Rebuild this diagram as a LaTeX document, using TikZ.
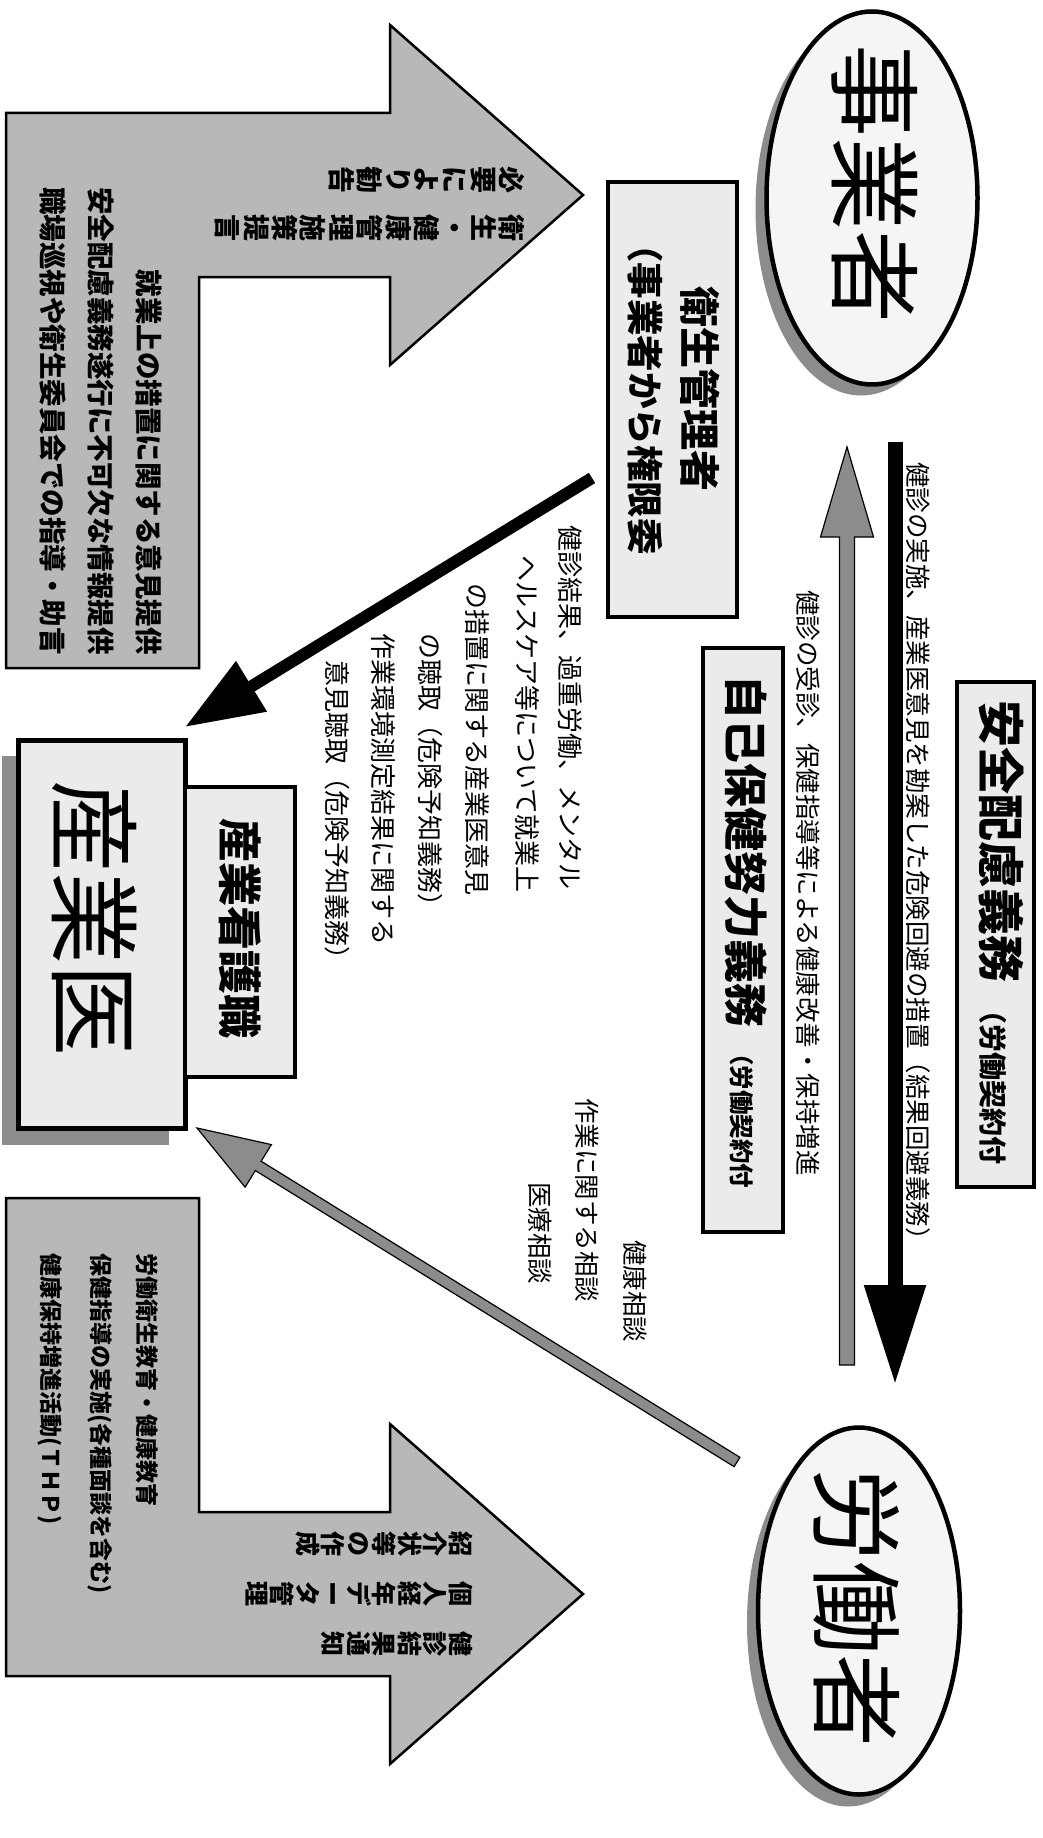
\documentclass[tikz,border=0pt]{standalone}
\usepackage{fontspec}
\setmainfont{Noto Sans CJK JP}
\usetikzlibrary{arrows.meta,shapes.geometric,calc}
\tikzset{
  larrow/.style={draw=black,line width=2.5pt,fill=black!28,line join=miter},
  boxst/.style={draw=black,line width=4pt,fill=black!8,inner sep=0pt},
  ellst/.style={ellipse,draw=black,line width=4.5pt,fill=black!4,inner sep=0pt},
  shadst/.style={ellipse,fill=black!45,inner sep=0pt},
  grayarr/.style={fill=black!45,draw=black,line width=1.2pt,line join=miter},
  rt/.style={rotate=-90,inner sep=0pt,anchor=west,font=\fontsize{25.5}{25.5}\selectfont},
  rtb/.style={rotate=-90,inner sep=0pt,anchor=west},
  big/.style={rotate=-90,inner sep=0pt,anchor=center,font=\fontsize{93}{93}\selectfont},
  colt/.style={rotate=-90,inner sep=0pt,anchor=north,align=center},
}
\begin{document}
\begin{tikzpicture}[x=1pt,y=-1pt]
\useasboundingbox[fill=white] (0,0) rectangle (1042,1838);

% ---- L arrows ----
\draw[larrow] (6,113) -- (390,113) -- (390,25) -- (583,195) -- (390,365)
  -- (390,277) -- (199,277) -- (199,668) -- (6,668) -- cycle;
\draw[larrow] (6,1198) -- (199,1198) -- (199,1512) -- (390,1512) -- (390,1424)
  -- (583,1594) -- (390,1764) -- (390,1676) -- (6,1676) -- cycle;

% top arrow texts
\node[colt,font=\bfseries\fontsize{27}{28.4}\selectfont] (ta1) at (525,180) {必\\要\\に\\よ\\り\\勧\\告};
\node[colt,font=\bfseries\fontsize{27}{28.4}\selectfont] (ta2) at (525,228) {衛\\生\\・\\健\\康\\管\\理\\施\\策\\提\\言};
\node[rtb,anchor=east,font=\bfseries\fontsize{27.5}{27.5}\selectfont] (tb1) at (149,655) {就業上の措置に関する意見提供};
\node[rtb,anchor=east,font=\bfseries\fontsize{27.5}{27.5}\selectfont] (tb2) at (101,655) {安全配慮義務遂行に不可欠な情報提供};
\node[rtb,anchor=east,font=\bfseries\fontsize{27.5}{27.5}\selectfont] (tb3) at (53,655) {職場巡視や衛生委員会での指導・助言};

% bottom arrow texts
\node[rtb,font=\bfseries\fontsize{23}{23}\selectfont] (bb1) at (147,1253) {労働衛生教育・健康教育};
\node[rtb,font=\bfseries\fontsize{23}{23}\selectfont] (bb2) at (100,1253) {保健指導の実施(各種面談を含む)};
\node[rtb,font=\bfseries\fontsize{23}{23}\selectfont] (bb3) at (50,1253) {健康保持増進活動(ＴＨＰ)};
\node[colt,font=\bfseries\fontsize{25}{25.5}\selectfont] (ba1) at (473,1544) {紹\\介\\状\\等\\の\\作\\成};
\node[colt,font=\bfseries\fontsize{25}{25.5}\selectfont] (ba2) at (473,1594) {個\\人\\経\\年\\デ\\ー\\タ\\管\\理};
\node[colt,font=\bfseries\fontsize{25}{25.5}\selectfont] (ba3) at (473,1644) {健\\診\\結\\果\\通\\知};

% ---- ellipses ----
\node[shadst,minimum width=211pt,minimum height=373pt] (empsh) at (861,209) {};
\node[ellst,minimum width=211pt,minimum height=373pt] (emp) at (872,198) {};
\node[big] (empt) at (875,184) {事業者};
\node[shadst,minimum width=202pt,minimum height=367pt] (wrksh) at (848,1623) {};
\node[ellst,minimum width=202pt,minimum height=367pt] (wrk) at (859,1611) {};
\node[big] (wrkt) at (857,1608) {労働者};

% ---- boxes ----
\node[boxst,minimum width=129pt,minimum height=435pt] (eisei) at (672.5,399.5) {};
\node[rtb,font=\bfseries\fontsize{41}{41}\selectfont] (eiseit) at (700,286) {衛生管理者};
\node[rtb,font=\bfseries\fontsize{36.5}{36.5}\selectfont] (eiseit2) at (645,226) {（事業者から権限委};

\node[boxst,minimum width=77pt,minimum height=505pt] (anzen) at (995.5,934.5) {};
\node[rtb,font=\bfseries\fontsize{47}{47}\selectfont] (anzent) at (1001,700) {安全配慮義務};
\node[rtb,font=\bfseries\fontsize{28}{28}\selectfont] (anzent2) at (993,996) {（労働契約付};

\node[boxst,minimum width=80pt,minimum height=584pt] (jiko) at (743,940) {};
\node[rtb,font=\bfseries\fontsize{44}{44}\selectfont] (jikot) at (746,675) {自己保健努力義務};
\node[rtb,font=\bfseries\fontsize{24.5}{24.5}\selectfont] (jikot2) at (742,1041) {（労働契約付};

\fill[black!45] (2,756) rectangle (169,1145);
\node[boxst,line width=5pt,minimum width=167pt,minimum height=388pt] (sangyoi) at (101.5,934) {};
\node[big,font=\fontsize{92}{92}\selectfont] (sangyoit) at (95,918) {産業医};
\node[boxst,minimum width=110pt,minimum height=290pt] (kango) at (240,932) {};
\node[rtb,font=\bfseries\fontsize{44}{44}\selectfont] (kangot) at (240,818) {産業看護職};

% ---- vertical arrows ----
\coordinate (dstart) at (895,442);
\coordinate (dend) at (895,1385);
\draw[line width=15pt,-{Triangle[length=100pt,width=58pt]}] (dstart) -- (dend);
\coordinate (ustart) at (847,1365);
\coordinate (uend) at (847,447);
\coordinate (ub) at ($(uend)!90pt!(ustart)$);
\draw[grayarr] ($(ustart)!7.5pt!90:(uend)$) -- ($(ub)!7.5pt!-90:(ustart)$)
  -- ($(ub)!26.5pt!-90:(ustart)$) -- (uend) -- ($(ub)!26.5pt!90:(ustart)$)
  -- ($(ub)!7.5pt!90:(ustart)$) -- ($(ustart)!7.5pt!-90:(uend)$) -- cycle;

\node[rt] (d1) at (918,462) {健診の実施、産業医意見を勘案した危険回避の措置（結果回避義務）};
\node[rt] (u1) at (808,590) {健診の受診、保健指導等による健康改善・保持増進};

% ---- diagonal arrows ----
\coordinate (k1) at (592,478);
\coordinate (k2) at (185,727);
\draw[line width=12pt,-{Triangle[length=78pt,width=56pt]}] (k1) -- (k2);
\coordinate (g1) at (737,1462);
\coordinate (g2) at (197,1128);
\coordinate (gb) at ($(g2)!72pt!(g1)$);
\draw[grayarr] ($(g1)!5.5pt!90:(g2)$) -- ($(gb)!5.5pt!-90:(g1)$)
  -- ($(gb)!25pt!-90:(g1)$) -- (g2) -- ($(gb)!25pt!90:(g1)$)
  -- ($(gb)!5.5pt!90:(g1)$) -- ($(g1)!5.5pt!-90:(g2)$) -- cycle;

% middle texts
\node[rt,font=\fontsize{26}{26}\selectfont] (m1) at (570,525) {健診結果、過重労働、メンタル};
\node[rt,font=\fontsize{26}{26}\selectfont] (m2) at (527,555) {ヘルスケア等について就業上};
\node[rt,font=\fontsize{26}{26}\selectfont] (m3) at (477,583) {の措置に関する産業医意見};
\node[rt,font=\fontsize{26}{26}\selectfont] (m4) at (430,633) {の聴取（危険予知義務）};
\node[rt,font=\fontsize{26}{26}\selectfont] (m5) at (383,633) {作業環境測定結果に関する};
\node[rt,font=\fontsize{26}{26}\selectfont] (m6) at (337,660) {意見聴取（危険予知義務）};

\node[rt] (w1) at (635,1240) {健康相談};
\node[rt] (w2) at (587,1098) {作業に関する相談};
\node[rt] (w3) at (540,1182) {医療相談};
\end{tikzpicture}
\end{document}
